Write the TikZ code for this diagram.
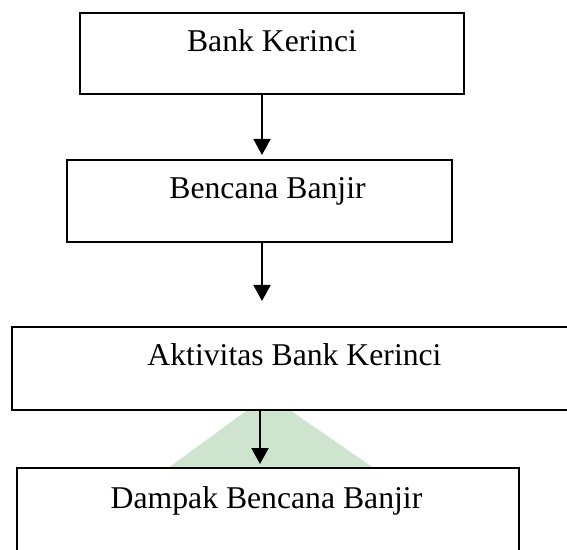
\documentclass[tikz,border=0pt]{standalone}
\usepackage{fontspec}
\setmainfont{Liberation Serif}
\usetikzlibrary{arrows.meta}
\definecolor{wmgreen}{RGB}{206,228,206}
\begin{document}
\begin{tikzpicture}[x=0.5pt,y=-0.5pt,
  box/.style={draw=black, line width=1pt, fill=white, rectangle, inner sep=0pt},
  lbl/.style={inner sep=0pt, anchor=base, font=\fontsize{15.85}{19}\selectfont},
  arr/.style={line width=1pt, -{Triangle[width=8.5pt,length=8pt]}}]
\clip (0,0) rectangle (567,550);
% watermark
\fill[wmgreen] (268,395) -- (149,482) -- (394,482) -- cycle;
% boxes
\node[box, minimum width=192pt, minimum height=40.65pt] (b1) at (272,53.35) {};
\node[box, minimum width=192.5pt, minimum height=41pt] (b2) at (259.5,201) {};
\node[box, minimum width=281.5pt, minimum height=41.25pt] (b3) at (293.5,368.25) {};
\node[box, minimum width=251pt, minimum height=46pt] (b4) at (268,514) {};
% labels
\node[lbl] (l1) at (272,52) {Bank Kerinci};
\node[lbl] (l2) at (267.5,199) {Bencana Banjir};
\node[lbl] (l3) at (294.5,365.5) {Aktivitas Bank Kerinci};
\node[lbl] (l4) at (266.5,508) {Dampak Bencana Banjir};
% arrows
\coordinate (x1) at (262,0);
\coordinate (x3) at (260,0);
\coordinate (t2) at (262,301);
\draw[arr, shorten >=2pt] (b1.south -| x1) -- (b2.north -| x1);
\draw[arr] (b2.south -| x1) -- (t2);
\draw[arr, shorten >=1.5pt] (b3.south -| x3) -- (b4.north -| x3);
\end{tikzpicture}
\end{document}
